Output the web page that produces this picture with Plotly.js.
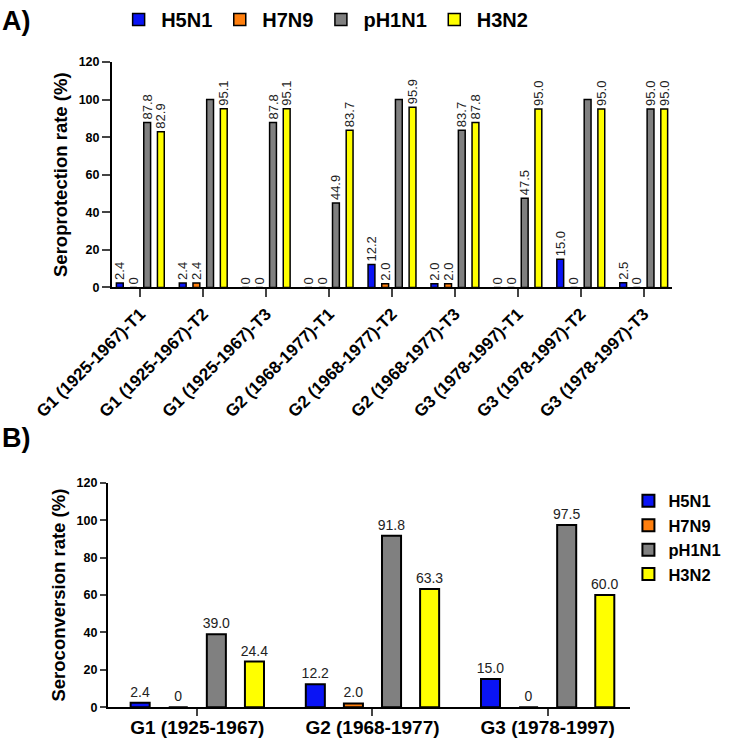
<!DOCTYPE html>
<html>
<head>
<meta charset="utf-8">
<script src="https://cdn.plot.ly/plotly-3.0.1.min.js"></script>
<style>html,body{margin:0;padding:0;background:#fff;}#chart{width:735px;height:740px;}</style>
</head>
<body>
<div id="chart"></div>
<script>
// ---- Data ----
var seriesNames = ["H5N1", "H7N9", "pH1N1", "H3N2"];
var seriesColors = ["#0a14f5", "#ff7f0e", "#808080", "#ffff00"];

// Panel A: seroprotection rate (%)
var catsA = ["G1 (1925-1967)-T1", "G1 (1925-1967)-T2", "G1 (1925-1967)-T3",
             "G2 (1968-1977)-T1", "G2 (1968-1977)-T2", "G2 (1968-1977)-T3",
             "G3 (1978-1997)-T1", "G3 (1978-1997)-T2", "G3 (1978-1997)-T3"];
var protH5N1  = [2.4, 2.4, 0, 0, 12.2, 2.0, 0, 15.0, 2.5];
var protH7N9  = [0, 2.4, 0, 0, 2.0, 2.0, 0, 0, 0];
var protPH1N1 = [87.8, 100, 87.8, 44.9, 100, 83.7, 47.5, 100, 95.0];
var protH3N2  = [82.9, 95.1, 95.1, 83.7, 95.9, 87.8, 95.0, 95.0, 95.0];

// Panel B: seroconversion rate (%)
var catsB = ["G1 (1925-1967)", "G2 (1968-1977)", "G3 (1978-1997)"];
var convH5N1  = [2.4, 12.2, 15.0];
var convH7N9  = [0, 2.0, 0];
var convPH1N1 = [39.0, 91.8, 97.5];
var convH3N2  = [24.4, 63.3, 60.0];

var protSeries = [protH5N1, protH7N9, protPH1N1, protH3N2];
var convSeries = [convH5N1, convH7N9, convPH1N1, convH3N2];

function lbl(v) { if (v === 100) return ""; if (v === 0) return "0"; return v.toFixed(1); }

var FONT = "Liberation Sans, Arial, sans-serif";
var traces = [];
protSeries.forEach(function (vals, i) {
  traces.push({
    type: "bar", x: catsA, y: vals, name: seriesNames[i],
    xaxis: "x", yaxis: "y", legend: "legend",
    marker: { color: seriesColors[i], line: { color: "#000", width: 1.5 } },
    text: vals.map(lbl), textposition: "outside", textangle: -90,
    constraintext: "none", cliponaxis: false,
    textfont: { family: FONT, size: 13, color: "#222" },
    hoverinfo: "x+y+name"
  });
});
convSeries.forEach(function (vals, i) {
  traces.push({
    type: "bar", x: catsB, y: vals, name: seriesNames[i],
    xaxis: "x2", yaxis: "y2", legend: "legend2",
    marker: { color: seriesColors[i], line: { color: "#000", width: 2 } },
    text: vals.map(lbl), textposition: "outside", textangle: 0,
    constraintext: "none", cliponaxis: false,
    textfont: { family: FONT, size: 14, color: "#222" },
    hoverinfo: "x+y+name"
  });
});

var yCommon = {
  range: [0, 120], dtick: 20, ticks: "outside", ticklen: 8, tickwidth: 2,
  showline: true, linewidth: 2, linecolor: "#000", showgrid: false, zeroline: false,
  tickfont: { family: FONT, size: 12.5, color: "#000", weight: "bold" }
};

var layout = {
  width: 735, height: 740,
  margin: { l: 0, r: 0, t: 0, b: 0 },
  paper_bgcolor: "#fff", plot_bgcolor: "#fff",
  font: { family: FONT, color: "#000" },
  barmode: "group",
  showlegend: true,
  xaxis: {
    domain: [0.1524, 0.9143], range: [-0.45, 8.45], type: "category",
    anchor: "y", ticks: "outside", ticklen: 8, tickwidth: 2,
    showline: true, linewidth: 2, linecolor: "#000", tickangle: -45,
    tickfont: { family: FONT, size: 17, color: "#000", weight: "bold" }
  },
  yaxis: Object.assign({}, yCommon, {
    domain: [0.614, 0.92], anchor: "x",
    title: { text: "Seroprotection rate (%)", standoff: 6,
             font: { family: FONT, size: 18.5, color: "#000", weight: "bold" } }
  }),
  xaxis2: {
    domain: [0.1469, 0.8571], range: [-0.51, 2.47], type: "category",
    anchor: "y2", ticks: "outside", ticklen: 7, tickwidth: 2,
    ticklabelstandoff: -5,
    showline: true, linewidth: 2, linecolor: "#000",
    tickfont: { family: FONT, size: 19, color: "#000", weight: "bold" }
  },
  yaxis2: Object.assign({}, yCommon, {
    domain: [0.0446, 0.3486], anchor: "x2", ticklen: 6,
    title: { text: "Seroconversion rate (%)", standoff: 6,
             font: { family: FONT, size: 18.5, color: "#000", weight: "bold" } }
  }),
  bargap: 0.13, bargroupgap: 0.5,
  legend: {
    orientation: "h", x: 0.158, xanchor: "left", y: 1.004, yanchor: "top",
    itemwidth: 35,
    font: { family: FONT, size: 20, color: "#000", weight: "bold" },
    bgcolor: "rgba(0,0,0,0)"
  },
  legend2: {
    orientation: "v", x: 0.855, xanchor: "left", y: 0.348, yanchor: "top",
    font: { family: FONT, size: 16.5, color: "#000", weight: "bold" },
    bgcolor: "rgba(0,0,0,0)"
  },
  annotations: [
    { text: "A)", xref: "paper", yref: "paper", x: 0, y: 1, xanchor: "left", yanchor: "top",
      yshift: -1, showarrow: false, font: { family: FONT, size: 27, color: "#000", weight: "bold" } },
    { text: "B)", xref: "paper", yref: "paper", x: 0, y: 1 - 437 / 740, xanchor: "left", yanchor: "middle",
      showarrow: false, font: { family: FONT, size: 27, color: "#000", weight: "bold" } }
  ]
};

Plotly.newPlot("chart", traces, layout, { displayModeBar: false, staticPlot: true });
</script>
</body>
</html>
